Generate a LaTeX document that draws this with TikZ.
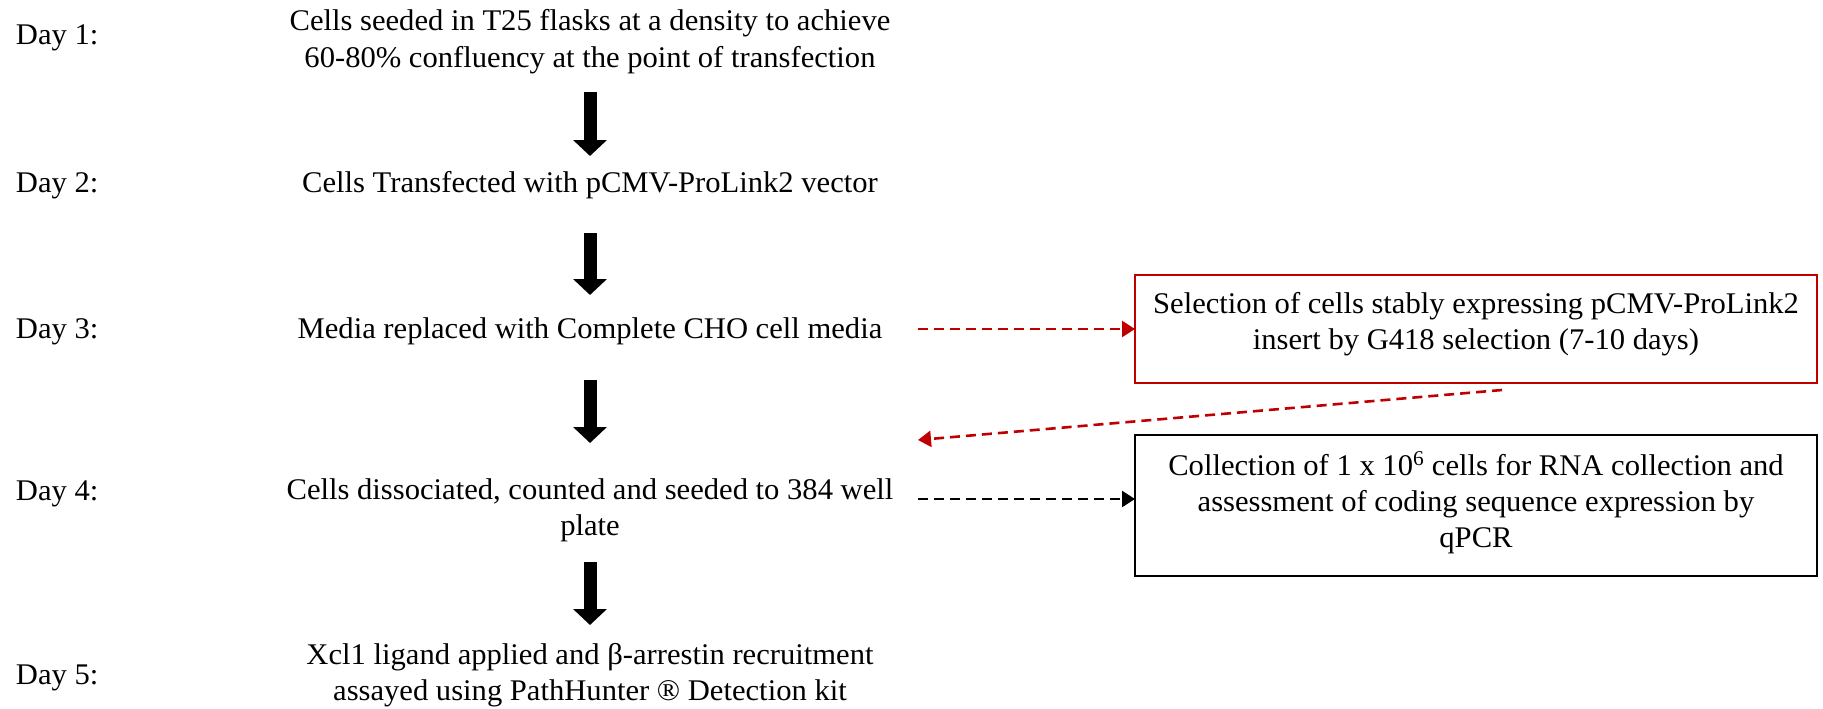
\documentclass[tikz,border=0pt]{standalone}
\usepackage{fontspec}
\setmainfont{Liberation Serif}[FakeStretch=1.02]
\usetikzlibrary{arrows.meta}
\definecolor{selred}{RGB}{192,0,0}
\begin{document}
\begin{tikzpicture}[x=1pt,y=-1pt,inner sep=0pt,outer sep=0pt,
  font=\fontsize{30}{36}\selectfont,
  daylbl/.style={anchor=base west},
  stepnode/.style={align=center,anchor=base},
  sidebox/.style={draw,align=center,line width=1.7pt,minimum width=682pt},
  blockarrow/.style={line width=13pt,-{Triangle[width=33pt,length=16pt]}},
  sidearrow/.style={dash pattern=on 10pt off 6pt,line width=2.6pt,-{Triangle[width=16pt,length=13pt]}}]
\useasboundingbox (0,0) rectangle (1823,709);
% day labels
\node[daylbl] (d1) at (16,45) {Day 1:};
\node[daylbl] (d2) at (16,192) {Day 2:};
\node[daylbl] (d3) at (16,338) {Day 3:};
\node[daylbl] (d4) at (16,500) {Day 4:};
\node[daylbl] (d5) at (16,684) {Day 5:};
% protocol steps (base = last line)
\node[stepnode] (s1) at (590,67) {Cells seeded in T25 flasks at a density to achieve\\60-80\% confluency at the point of transfection};
\node[stepnode] (s2) at (590,192) {Cells Transfected with pCMV-ProLink2 vector};
\node[stepnode] (s3) at (590,338) {Media replaced with Complete CHO cell media};
\node[stepnode] (s4) at (590,535) {Cells dissociated, counted and seeded to 384 well\\plate};
\node[stepnode] (s5) at (590,700) {Xcl1 ligand applied and β-arrestin recruitment\\assayed using PathHunter ® Detection kit};
% side boxes
\node[sidebox,draw=selred,minimum height=108pt,text height=74pt,text depth=34pt] (sel) at (1476,329) {Selection of cells stably expressing pCMV-ProLink2\\insert by G418 selection (7-10 days)};
\node[sidebox,minimum height=141pt,text height=112pt,text depth=29pt] (qpcr) at (1476,505.5) {Collection of 1 x 10\textsuperscript{6} cells for RNA collection and\\assessment of coding sequence expression by\\qPCR};
\coordinate (selout) at ([xshift=26pt,yshift=-7pt]sel.south);
\coordinate (back) at (918,440);
% arrows
\draw[blockarrow,shorten <=25pt,shorten >=36pt] (s1.base) -- (s2.base);
\draw[blockarrow,shorten <=41pt,shorten >=43pt] (s2.base) -- (s3.base);
\draw[blockarrow,shorten <=42pt,shorten >=92pt] (s3.base) -- (s4.base);
\draw[blockarrow,shorten <=27pt,shorten >=75pt] (s4.base) -- (s5.base);
\draw[sidearrow,selred] (918,0 |- sel.west) -- (sel.west);
\draw[sidearrow,selred] (selout) -- (back);
\draw[sidearrow] (918,499) -- (qpcr.west |- 0,499);
\end{tikzpicture}
\end{document}
